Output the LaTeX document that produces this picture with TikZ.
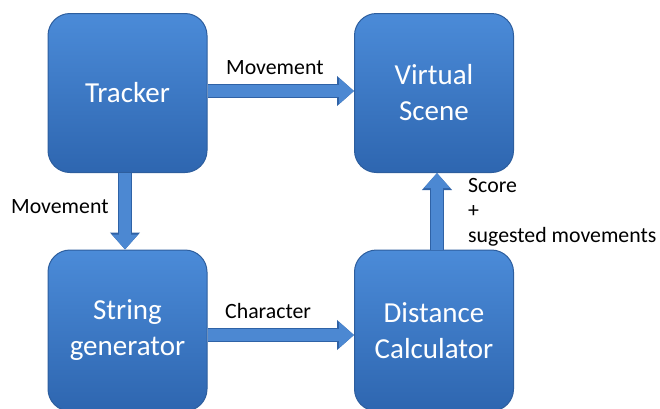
\documentclass[tikz,border=0pt]{standalone}
\usepackage{fontspec}
\setmainfont{Carlito}
\usetikzlibrary{arrows.meta}
\definecolor{boxtop}{HTML}{4B8BD8}
\definecolor{boxbot}{HTML}{2E66B0}
\definecolor{boxedge}{HTML}{2D5E9E}
\definecolor{arrowfill}{HTML}{4C88D2}
\definecolor{arrowedge}{HTML}{2F62A6}
\tikzset{
  box/.style={rounded corners=22pt, minimum width=159pt, minimum height=159pt,
    top color=boxtop, bottom color=boxbot, draw=boxedge, line width=1pt,
    text=white, font=\fontsize{29}{36}\selectfont, align=center, inner sep=0pt},
  lbl/.style={font=\fontsize{21.8}{25}\selectfont, text=black, inner sep=0pt, align=left},
  fatarrow/.style={draw=arrowfill, line width=12pt,
    -{Triangle[length=15pt,width=25pt,fill=arrowfill]},
    preaction={draw=arrowedge, line width=14.5pt,
      -{Triangle[length=17pt,width=29pt,fill=arrowedge]}}}
}
\begin{document}
\begin{tikzpicture}[x=1pt,y=-1pt]
\useasboundingbox (0,0) rectangle (660,408);
\node[box] (tracker) at (127.5,93) {\raisebox{-2pt}{Tracker}};
\node[box] (scene) at (434,93) {\raisebox{-2pt}{Virtual}\\\raisebox{-2pt}{Scene}};
\node[box, minimum height=161pt] (string) at (127.5,330.5) {String\\generator};
\node[box, minimum height=161pt] (dist) at (434,330.5) {Distance\\Calculator};

\coordinate (m1) at (tracker.east |- 0,91);
\coordinate (m2) at (scene.west |- 0,91);
\draw[fatarrow] (m1) -- (m2);
\coordinate (c1) at (string.east |- 0,335);
\coordinate (c2) at (dist.west |- 0,335);
\draw[fatarrow] (c1) -- (c2);
\coordinate (v1) at (tracker.south -| 125,0);
\coordinate (v2) at (string.north -| 125,0);
\draw[fatarrow] (v1) -- (v2);
\coordinate (s1) at (dist.north -| 437,0);
\coordinate (s2) at (scene.south -| 437,0);
\draw[fatarrow] (s1) -- (s2);

\node[lbl, anchor=base west] (lm1) at (226,74) {Movement};
\node[lbl, anchor=base west] (lm2) at (11,213) {Movement};
\node[lbl, anchor=base west] (lc) at (225,318) {Character};
\node[lbl, anchor=north west] (ls) at (468,178) {Score\\+\\sugested movements};
\end{tikzpicture}
\end{document}
